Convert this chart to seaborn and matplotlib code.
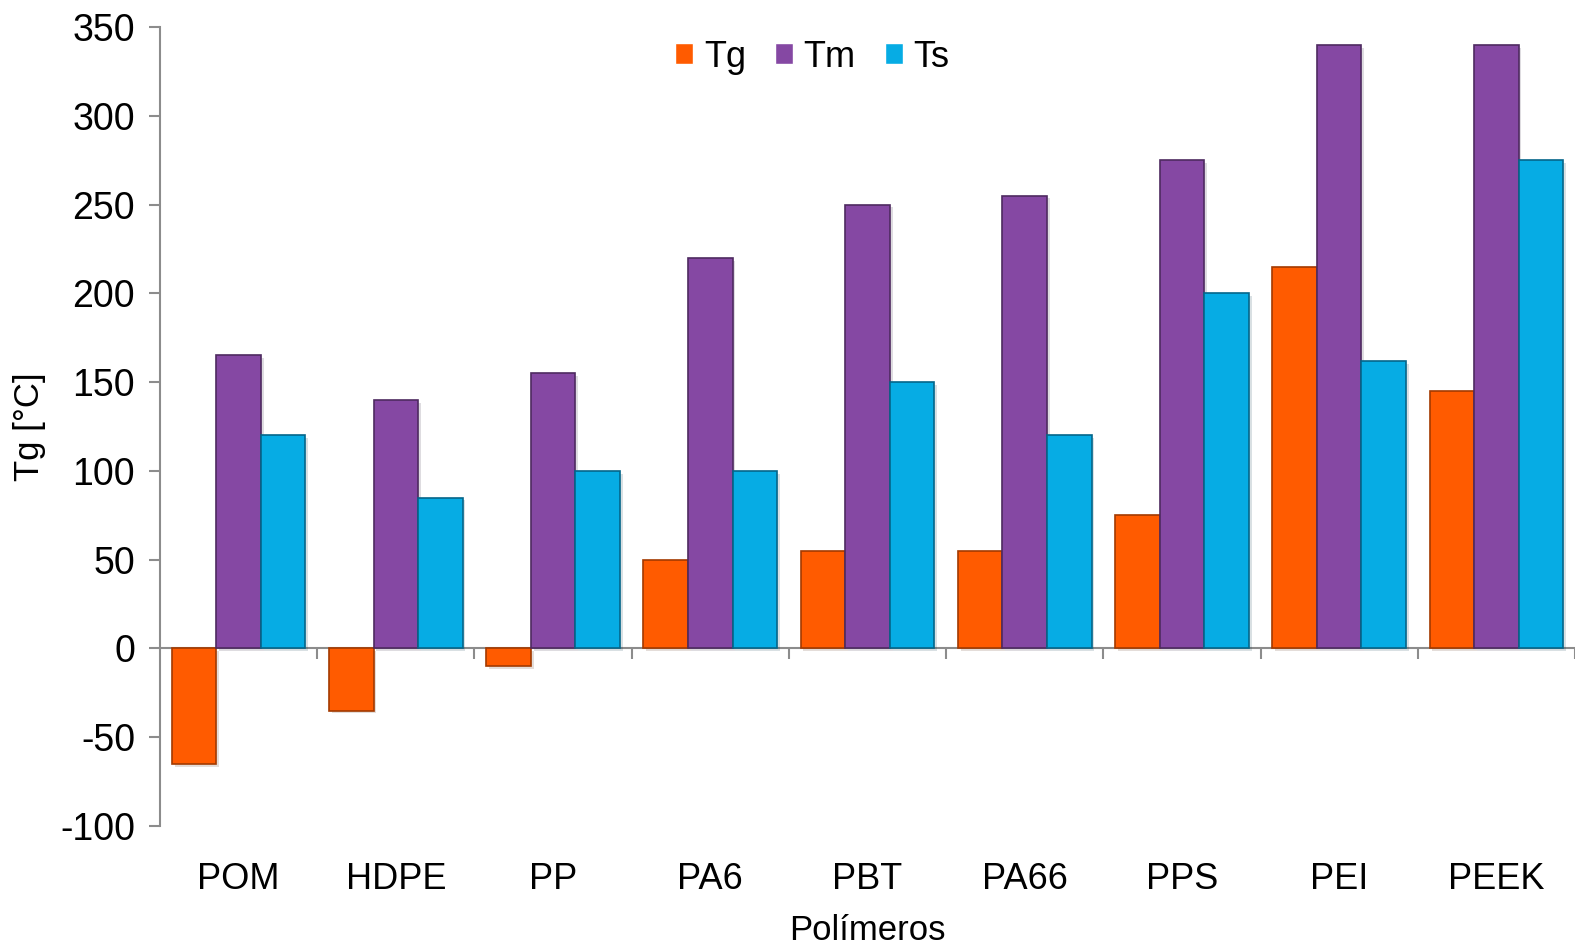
import pandas as pd
import seaborn as sns
import matplotlib.pyplot as plt
import matplotlib.patheffects as pe

polymers = ["POM", "HDPE", "PP", "PA6", "PBT", "PA66", "PPS", "PEI", "PEEK"]
tg = [-65, -35, -10, 50, 55, 55, 75, 215, 145]
tm = [165, 140, 155, 220, 250, 255, 275, 340, 340]
ts = [120, 85, 100, 100, 150, 120, 200, 162, 275]

df = pd.DataFrame({"Polímeros": polymers, "Tg": tg, "Tm": tm, "Ts": ts})
df = pd.melt(df, id_vars=["Polímeros"], var_name="Serie", value_name="Temp")

palette = {
    "Tg": "#FF5B00",  # orange
    "Tm": "#8548A3",  # purple
    "Ts": "#06ACE4",  # blue
}
edges = {"Tg": "#A33A00", "Tm": "#4E2A60", "Ts": "#04668A"}

sns.set_theme(style="white")
plt.rcParams["font.family"] = ["Liberation Sans", "DejaVu Sans"]
plt.rcParams["axes.unicode_minus"] = False
plt.rcParams["text.color"] = "black"
plt.rcParams["axes.labelcolor"] = "black"
plt.rcParams["xtick.color"] = "black"
plt.rcParams["ytick.color"] = "black"

fig = plt.figure(figsize=(15.75, 9.5), dpi=100)
ax = fig.add_axes([0.1016, 0.1305, 0.8984, 0.8411])

sns.barplot(data=df, x="Polímeros", y="Temp", hue="Serie", palette=palette,
            width=0.85, saturation=1, ax=ax)

# dark edges + soft drop shadow to mimic the bevel look
for cont, name in zip(ax.containers, ["Tg", "Tm", "Ts"]):
    for bar in cont:
        bar.set_edgecolor(edges[name])
        bar.set_linewidth(1.2)
        bar.set_path_effects([pe.SimplePatchShadow(offset=(2, -2), alpha=0.15),
                              pe.Normal()])

ax.set_ylim(-100, 350)
ax.set_yticks(range(-100, 351, 50))
ax.set_xlim(-0.5, 8.5)
ax.set_ylabel("Tg [°C]", fontsize=25, labelpad=10)
ax.set_xlabel("Polímeros", fontsize=25, labelpad=12)
ax.tick_params(axis="y", labelsize=27, length=8, color="#8C8C8C", labelcolor="black",
               width=1.5, left=True, pad=10)
ax.tick_params(axis="x", labelsize=26, length=0, pad=26, labelcolor="black")

for s in ["top", "right", "bottom"]:
    ax.spines[s].set_visible(False)
ax.spines["left"].set_color("#8C8C8C")
ax.spines["left"].set_linewidth(1.5)

# category axis drawn at zero, ticks at category boundaries
zero = ax.secondary_xaxis(100 / 450)
zero.set_xticks([k + 0.5 for k in range(9)])
zero.set_xticklabels([])
zero.tick_params(length=8, color="#8C8C8C", width=1.5, direction="out")
zero.spines["bottom"].set_color("#8C8C8C")
zero.spines["bottom"].set_linewidth(1.5)

leg = ax.legend(loc="upper center", bbox_to_anchor=(0.461, 1.025), ncol=3, frameon=False,
                fontsize=26, handlelength=0.5, handleheight=0.5, handletextpad=0.3,
                columnspacing=0.8, title=None)

fig.savefig("out.png", dpi=100)
